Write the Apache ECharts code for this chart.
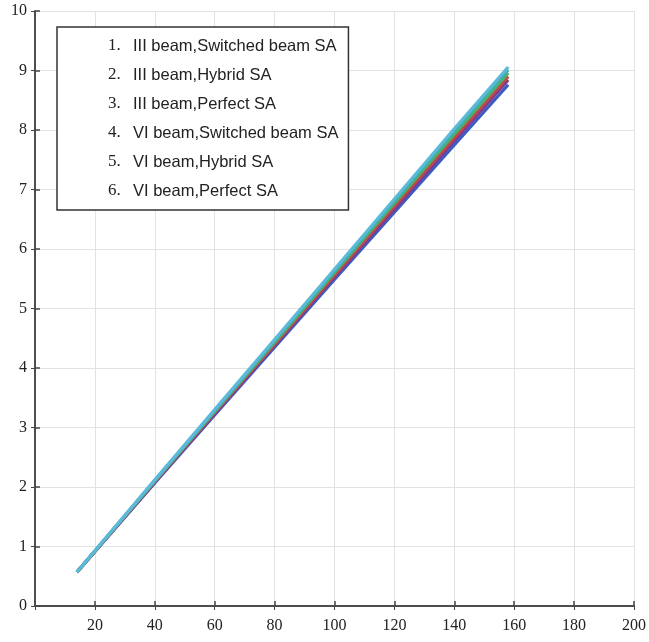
<!DOCTYPE html>
<html>
<head>
<meta charset="utf-8">
<script src="https://cdn.jsdelivr.net/npm/echarts@6/dist/echarts.min.js"></script>
<style>html,body{margin:0;padding:0;background:#fff;}#c{width:649px;height:642px;}</style>
</head>
<body>
<div id="c"></div>
<script>
var xValues = [14, 40, 60, 80, 100, 120, 140, 158];
var s1 = [0.57, 2.07, 3.21, 4.35, 5.49, 6.62, 7.75, 8.76];
var s2 = [0.57, 2.08, 3.23, 4.38, 5.53, 6.67, 7.82, 8.84];
var s3 = [0.57, 2.09, 3.25, 4.40, 5.56, 6.72, 7.87, 8.90];
var s4 = [0.57, 2.10, 3.27, 4.43, 5.60, 6.77, 7.93, 8.96];
var s5 = [0.57, 2.11, 3.28, 4.46, 5.63, 6.81, 7.98, 9.01];
var s6 = [0.57, 2.12, 3.30, 4.48, 5.66, 6.84, 8.02, 9.06];
var seriesNames = [
  'III beam,Switched beam SA',
  'III beam,Hybrid SA',
  'III beam,Perfect SA',
  'VI beam,Switched beam SA',
  'VI beam,Hybrid SA',
  'VI beam,Perfect SA'
];
var seriesValues = [s1, s2, s3, s4, s5, s6];
var colors = ['#3a5cc4', '#7e3c8e', '#c24848', '#4fae6c', '#3fb1a6', '#5bb9da'];

var chart = echarts.init(document.getElementById('c'));
var series = seriesValues.map(function (vals, i) {
  return {
    name: seriesNames[i],
    type: 'line',
    showSymbol: false,
    symbol: 'none',
    lineStyle: { width: 3.2, color: colors[i] },
    itemStyle: { color: colors[i] },
    data: vals.map(function (v, j) { return [xValues[j], v]; }),
    xAxisIndex: 0,
    yAxisIndex: 0,
    animation: false
  };
});
var labelFont = { fontFamily: 'Liberation Serif', fontSize: 16, color: '#222' };
chart.setOption({
  animation: false,
  grid: { left: 35, right: 15, top: 11, bottom: 36, show: false },
  legend: {
    orient: 'vertical',
    left: 57,
    top: 27,
    padding: [9, 10, 9, 46],
    itemGap: 9,
    itemWidth: 0,
    itemHeight: 20,
    icon: 'rect',
    backgroundColor: '#fff',
    borderColor: '#333',
    borderWidth: 1.5,
    data: seriesNames,
    formatter: function (name) {
      return '{n|' + (seriesNames.indexOf(name) + 1) + '.}{t|' + name + '}';
    },
    textStyle: {
      lineHeight: 20,
      rich: {
        n: { fontFamily: 'Liberation Serif', fontSize: 17, color: '#222', width: 25, lineHeight: 20 },
        t: { fontFamily: 'Liberation Sans', fontSize: 16.5, color: '#222', lineHeight: 20 }
      }
    }
  },
  xAxis: [{
    type: 'value', min: 0, max: 200, interval: 20, position: 'bottom',
    axisLine: { show: true, lineStyle: { color: '#444', width: 1.5 } },
    axisTick: { show: true, inside: true, length: 5, lineStyle: { color: '#444', width: 1.5 } },
    axisLabel: Object.assign({ showMinLabel: false, margin: 12 }, labelFont),
    splitLine: { show: true, lineStyle: { color: '#e2e2e2', width: 1 } }
  }, {
    type: 'value', min: 0, max: 200, interval: 20, position: 'top',
    axisLine: { show: true, lineStyle: { color: '#444', width: 1.5 } },
    axisTick: { show: true, inside: true, length: 4, lineStyle: { color: '#444' } },
    axisLabel: { show: false },
    splitLine: { show: false }
  }],
  yAxis: [{
    type: 'value', min: 0, max: 10, interval: 1, position: 'left',
    axisLine: { show: true, lineStyle: { color: '#444', width: 1.5 } },
    axisTick: { show: true, inside: true, length: 5, lineStyle: { color: '#444', width: 1.5 } },
    axisLabel: Object.assign({ margin: 8 }, labelFont),
    splitLine: { show: true, lineStyle: { color: '#e2e2e2', width: 1 } }
  }, {
    type: 'value', min: 0, max: 10, interval: 1, position: 'right',
    axisLine: { show: true, lineStyle: { color: '#444', width: 1.5 } },
    axisTick: { show: true, inside: true, length: 4, lineStyle: { color: '#444' } },
    axisLabel: { show: false },
    splitLine: { show: false }
  }],
  series: series
});
</script>
</body>
</html>
